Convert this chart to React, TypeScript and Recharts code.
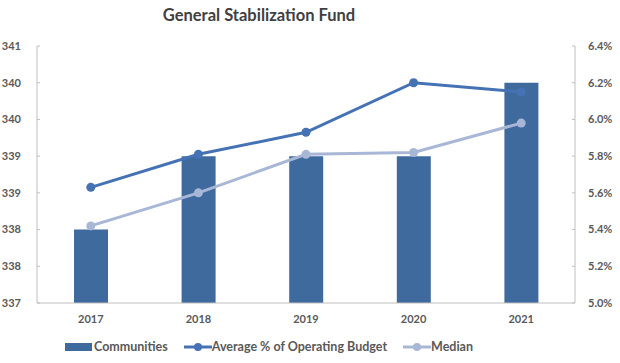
import React from 'react';
import { ComposedChart, Bar, Line, XAxis, YAxis } from 'recharts';

const years = ['2017', '2018', '2019', '2020', '2021'];
const communities = [338, 339, 339, 339, 340];
const averagePct = [5.63, 5.81, 5.93, 6.2, 6.15];
const medianPct = [5.42, 5.6, 5.81, 5.82, 5.98];

const leftTicks = [337, 337.5, 338, 338.5, 339, 339.5, 340, 340.5];
const rightTicks = [5.0, 5.2, 5.4, 5.6, 5.8, 6.0, 6.2, 6.4];

const BAR_COLOR = '#3F6A9E';
const AVG_COLOR = '#4472B4';
const MEDIAN_COLOR = '#A9B7D6';
const AXIS_COLOR = '#BFBFBF';
const TEXT_COLOR = '#595959';
const FONT = 'Lato, "Open Sans", sans-serif';

const data = years.map((year, i) => ({
  year,
  communities: communities[i],
  average: averagePct[i],
  median: medianPct[i],
}));

const tickStyle = { fill: TEXT_COLOR, fontSize: 11, fontWeight: 700, fontFamily: FONT };

// y tick with a small inward tick mark, like the Excel original
const SideTick = ({ x, y, payload, side, gap, format }: any) => {
  const axisX = side === 'left' ? x + gap : x - gap;
  const inner = side === 'left' ? axisX + 3 : axisX - 3;
  return (
    <g>
      <line x1={axisX} y1={y} x2={inner} y2={y} stroke={AXIS_COLOR} strokeWidth={1} />
      <text
        x={x}
        y={y}
        dy="0.35em"
        textAnchor={side === 'left' ? 'end' : 'start'}
        {...tickStyle}
      >
        {format(payload.value)}
      </text>
    </g>
  );
};

const LegendLine = ({ color }: { color: string }) => (
  <svg width="28" height="10" style={{ display: 'block' }}>
    <line x1="0" y1="5" x2="28" y2="5" stroke={color} strokeWidth={3} />
    <circle cx="14" cy="5" r={4} fill={color} />
  </svg>
);

const fmtLeft = (v: number) => String(Math.round(v));
const fmtRight = (v: number) => `${v.toFixed(1)}%`;

export default function App() {
  return (
    <div style={{ position: 'absolute', left: 0, top: 0, width: 620, height: 363, background: '#fff', fontFamily: FONT }}>
      <div
        style={{
          position: 'absolute',
          top: 5,
          left: 0,
          width: 518,
          textAlign: 'center',
          fontSize: 16.5,
          fontWeight: 700,
          color: '#404040',
        }}
      >
        General Stabilization Fund
      </div>
      <ComposedChart width={620} height={363} data={data} margin={{ top: 46, right: 0, left: 0, bottom: 0 }}>
        <XAxis
          dataKey="year"
          height={60}
          stroke={AXIS_COLOR}
          tickLine={false}
          tickSize={0}
          tickMargin={12}
          tick={tickStyle}
        />
        <YAxis
          yAxisId="left"
          width={37}
          domain={[337, 340.5]}
          ticks={leftTicks}
          interval={0}
          stroke={AXIS_COLOR}
          tickLine={false}
          tickSize={0}
          tickMargin={16}
          tick={<SideTick side="left" gap={16} format={fmtLeft} />}
        />
        <YAxis
          yAxisId="right"
          orientation="right"
          width={45}
          domain={[5.0, 6.4]}
          ticks={rightTicks}
          interval={0}
          stroke={AXIS_COLOR}
          tickLine={false}
          tickSize={0}
          tickMargin={13}
          tick={<SideTick side="right" gap={13} format={fmtRight} />}
        />
        <Bar yAxisId="left" dataKey="communities" fill={BAR_COLOR} barSize={34} isAnimationActive={false} />
        <Line
          yAxisId="right"
          dataKey="average"
          stroke={AVG_COLOR}
          strokeWidth={3}
          dot={{ r: 4.5, fill: AVG_COLOR, stroke: AVG_COLOR, strokeWidth: 0 }}
          isAnimationActive={false}
        />
        <Line
          yAxisId="right"
          dataKey="median"
          stroke={MEDIAN_COLOR}
          strokeWidth={3}
          dot={{ r: 4.5, fill: MEDIAN_COLOR, stroke: MEDIAN_COLOR, strokeWidth: 0 }}
          isAnimationActive={false}
        />
      </ComposedChart>
      {/* Legend */}
      <div
        style={{
          position: 'absolute',
          top: 339,
          left: 65,
          display: 'flex',
          alignItems: 'center',
          fontSize: 12.5,
          fontWeight: 700,
          color: TEXT_COLOR,
          whiteSpace: 'nowrap',
        }}
      >
        <div style={{ width: 27, height: 8, background: BAR_COLOR, marginRight: 2 }} />
        <span style={{ marginRight: 16 }}>Communities</span>
        <LegendLine color={AVG_COLOR} />
        <span style={{ marginRight: 16 }}>Average % of Operating Budget</span>
        <LegendLine color={MEDIAN_COLOR} />
        <span>Median</span>
      </div>
    </div>
  );
}
